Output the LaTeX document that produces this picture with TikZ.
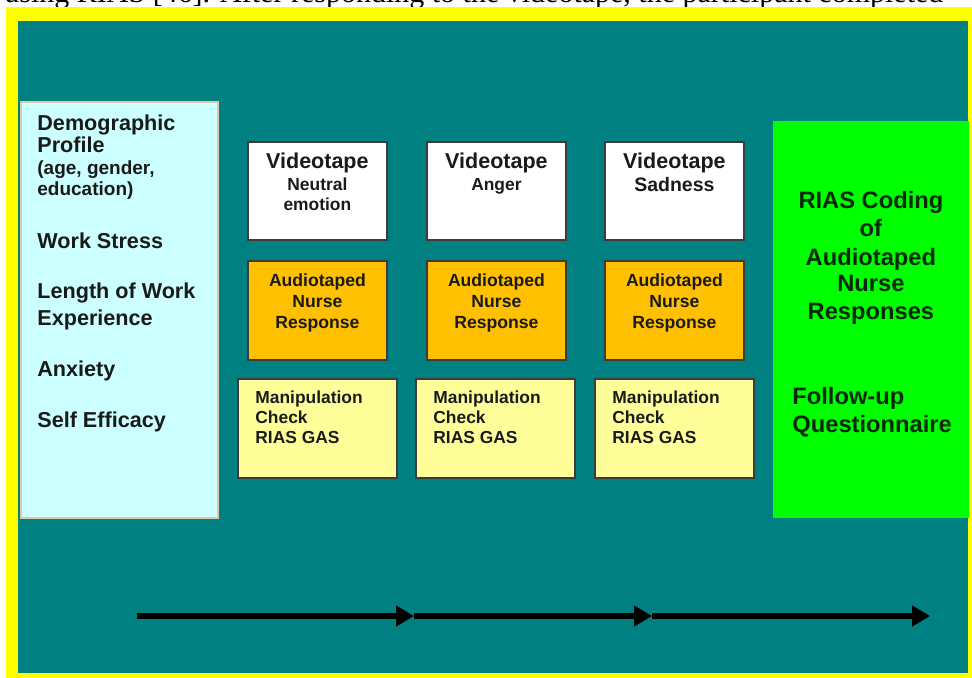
\documentclass[tikz,border=0pt]{standalone}
\usepackage{fontspec}
\setmainfont{Liberation Serif}
\setsansfont{Liberation Sans}
\usetikzlibrary{arrows.meta, positioning}
\definecolor{frameyellow}{HTML}{FFFF00}
\definecolor{panelteal}{HTML}{008080}
\definecolor{factorcyan}{HTML}{CCFFFF}
\definecolor{audiogold}{HTML}{FFC000}
\definecolor{checkyellow}{HTML}{FFFF99}
\definecolor{codinggreen}{HTML}{00FF00}
\definecolor{inkgray}{HTML}{1A1A1A}
\definecolor{inkgreen}{HTML}{062806}
\tikzset{
    box/.style={draw=inkgray!85, line width=0.9pt, anchor=north west,
        inner sep=0pt},
    videobox/.style={box, fill=white, minimum width=69.5pt,
        minimum height=49pt},
    audiobox/.style={box, fill=audiogold, minimum width=69.5pt,
        minimum height=49.5pt},
    checkbox/.style={box, fill=checkyellow, minimum width=79.5pt,
        minimum height=49.5pt},
    boxtext/.style={inner sep=0pt, text=inkgray, anchor=base},
    sizedfont/.style={font=\sffamily\bfseries\fontsize{#1}{#1}\selectfont},
    flow/.style={line width=3pt, -{Triangle[length=9pt, width=10pt]}},
}

\begin{document}
\begin{tikzpicture}[x=0.5pt, y=-0.5pt]
    \useasboundingbox (0,0) rectangle (972,678);
    \fill[frameyellow] (6,7) rectangle (972,678);
    \fill[panelteal] (18,21) rectangle (968,673);
    \begin{scope}
        \clip (0,0) rectangle (972,7);
        \node[anchor=base west, inner sep=0pt,
            font=\fontsize{15}{15}\selectfont] (caption) at (4,3)
            {using RIAS [46]. After responding to the videotape, the participant completed};
    \end{scope}

    % baseline factors
    \node[box, draw=brown!45, line width=1pt, fill=factorcyan,
        minimum width=98.5pt, minimum height=208pt] (factors) at (20,101) {};
    \foreach \yy/\txt/\sz [count=\k] in {131/Demographic/10.8,
            153/Profile/10.8, 175/{(age, gender,}/9.5, 196/education)/9.5,
            249/Work Stress/10.8, 299/Length of Work/10.8,
            325/Experience/10.8, 376/Anxiety/10.8, 427/Self Efficacy/10.8}
        \node[boxtext, anchor=base west, sizedfont=\sz] (factor\k)
            at (37,\yy) {\txt};

    % the three videotape conditions
    \foreach \n/\xx in {1/247, 2/426, 3/604} {
        \node[videobox] (video\n) at (\xx,141) {};
        \node[audiobox] (audio\n) at (\xx,260) {};
        \node[boxtext, sizedfont=10.75] (video\n-title)
            at (video\n.north |- 0,169) {Videotape};
        \foreach \yy/\txt [count=\k] in {286/Audiotaped, 307/Nurse,
                328/Response}
            \node[boxtext, sizedfont=8.8] (audio\n-\k)
                at (audio\n.north |- 0,\yy) {\txt};
    }
    \foreach \n/\xx in {1/237, 2/415, 3/594} {
        \node[checkbox] (check\n) at (\xx,378) {};
        \foreach \yy/\txt [count=\k] in {403/Manipulation, 423/Check,
                443/RIAS GAS}
            \node[boxtext, anchor=base west, xshift=9pt, sizedfont=8.7]
                (check\n-\k) at (check\n.west |- 0,\yy) {\txt};
    }
    \node[boxtext, sizedfont=8.7] (video1-a) at (video1.north |- 0,191)
        {Neutral};
    \node[boxtext, sizedfont=8.7] (video1-b) at (video1.north |- 0,211)
        {emotion};
    \node[boxtext, sizedfont=8.7] (video2-a) at (video2.north |- 0,191)
        {Anger};
    \node[boxtext, sizedfont=9.75] (video3-a) at (video3.north |- 0,192)
        {Sadness};

    % outcome panel
    \node[box, draw=none, fill=codinggreen, minimum width=98pt,
        minimum height=198.5pt] (coding) at (772,120) {};
    \foreach \yy/\txt [count=\k] in {209/RIAS Coding, 237/of,
            265/Audiotaped, 292/Nurse, 319/Responses}
        \node[boxtext, text=inkgreen, sizedfont=11.85] (coding\k)
            at (coding.north |- 0,\yy) {\txt};
    \node[boxtext, anchor=base west, text=inkgreen, sizedfont=11.85]
        (followup) at (792,404) {Follow-up};
    \node[boxtext, anchor=base west, text=inkgreen, sizedfont=11.85]
        (questionnaire) at (792,432) {Questionnaire};

    % time line
    \coordinate (t0) at (137,616);
    \coordinate (t1) at (414,616);
    \coordinate (t2) at (652,616);
    \coordinate (t3) at (930,616);
    \draw[flow] (t0) -- (t1);
    \draw[flow] (t1) -- (t2);
    \draw[flow] (t2) -- (t3);
\end{tikzpicture}
\end{document}
